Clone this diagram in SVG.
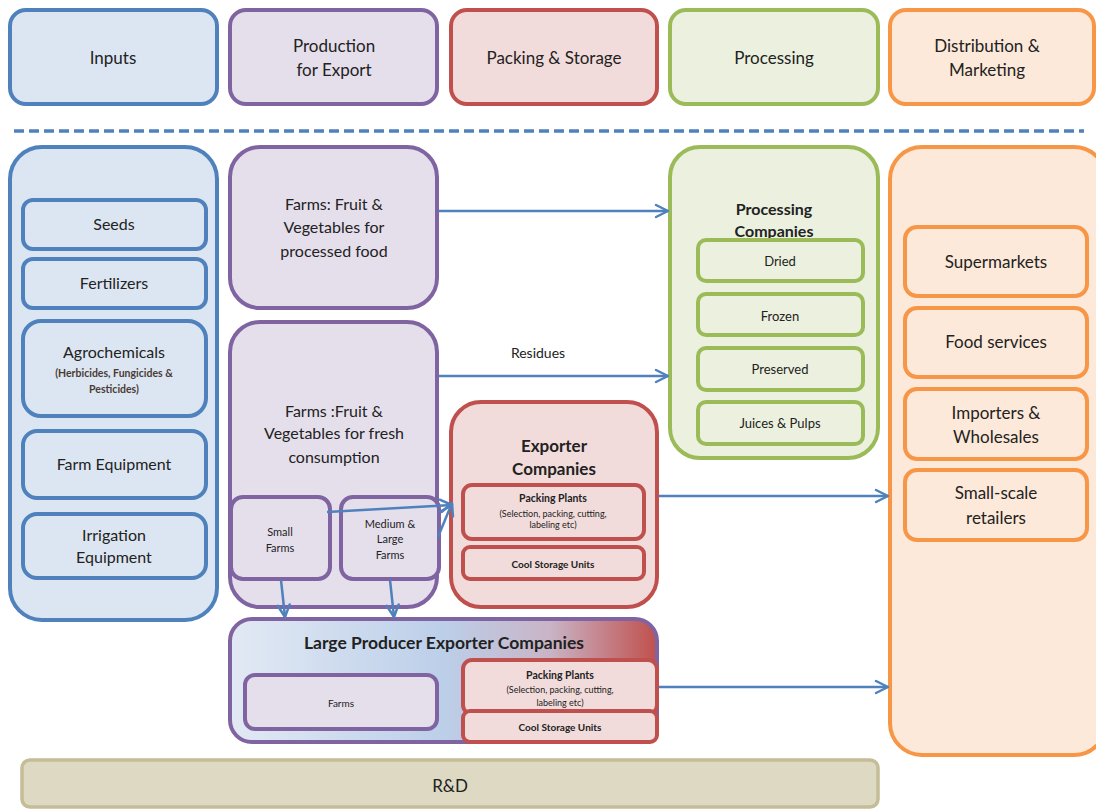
<svg xmlns="http://www.w3.org/2000/svg" width="1096" height="809" viewBox="0 0 1096 809">
<defs>
<marker id="arr" markerUnits="userSpaceOnUse" markerWidth="16" markerHeight="16" viewBox="0 0 16 16" refX="14" refY="8" orient="auto">
<path d="M2,2 L14,8 L2,14" fill="none" stroke="#4f81bd" stroke-width="2.5" stroke-linecap="round" stroke-linejoin="round"/>
</marker>
<linearGradient id="lpg" x1="0" y1="0" x2="1" y2="0">
<stop offset="0" stop-color="#e2e9f4"/>
<stop offset="0.5" stop-color="#bccfe9"/>
<stop offset="0.75" stop-color="#c9b4c6"/>
<stop offset="1" stop-color="#c0504d"/>
</linearGradient>
<style>
text{font-family:Lato,"Liberation Sans",sans-serif;fill:#222;text-anchor:middle}
.b{fill:#dce6f2;stroke:#4f81bd;stroke-width:4}
.p{fill:#e5dfec;stroke:#8064a2;stroke-width:4}
.r{fill:#f2dcdb;stroke:#c0504d;stroke-width:4}
.g{fill:#ebf1de;stroke:#9bbb59;stroke-width:4}
.o{fill:#fde9d9;stroke:#f79646;stroke-width:4}
.t17{font-size:17px}
.t16{font-size:16px}
.t13{font-size:13px}
.bold{font-weight:bold}
.conn{stroke:#4f81bd;stroke-width:2.5;fill:none;marker-end:url(#arr)}
</style>
</defs>

<g id="headers">
<g id="h-inputs"><rect class="b" x="10" y="10" width="207" height="94" rx="16"/><text class="t17" x="113" y="64">Inputs</text></g>
<g id="h-production"><rect class="p" x="230" y="10" width="207" height="94" rx="16"/><text class="t17" x="334" y="52">Production</text><text class="t17" x="334" y="76">for Export</text></g>
<g id="h-packing"><rect class="r" x="451" y="10" width="206" height="94" rx="16"/><text class="t17" x="554" y="64">Packing &amp; Storage</text></g>
<g id="h-processing"><rect class="g" x="670" y="10" width="208" height="94" rx="16"/><text class="t17" x="774" y="64">Processing</text></g>
<g id="h-distribution"><rect class="o" x="890" y="10" width="204" height="94" rx="16"/><text class="t17" x="987" y="52">Distribution &amp;</text><text class="t17" x="987" y="76">Marketing</text></g>
</g>

<line x1="14" y1="131" x2="1084" y2="131" stroke="#4f81bd" stroke-width="3.5" stroke-dasharray="10,5"/>

<g id="inputs">
<rect class="b" x="10" y="147" width="207" height="473" rx="32"/>
<g id="seeds"><rect class="b" x="23" y="200" width="183" height="49" rx="10"/><text class="t16" x="114" y="230">Seeds</text></g>
<g id="fertilizers"><rect class="b" x="23" y="259" width="183" height="49" rx="10"/><text class="t16" x="114" y="289">Fertilizers</text></g>
<g id="agrochemicals"><rect class="b" x="23" y="321" width="183" height="95" rx="18"/><text class="t16" x="114" y="358">Agrochemicals</text><text class="bold" style="font-size:10.5px;fill:#4a3b35" x="114" y="377">(Herbicides, Fungicides &amp;</text><text class="bold" style="font-size:10.5px;fill:#4a3b35" x="114" y="393">Pesticides)</text></g>
<g id="farm-equipment"><rect class="b" x="23" y="431" width="183" height="67" rx="14"/><text class="t16" x="114" y="470">Farm Equipment</text></g>
<g id="irrigation"><rect class="b" x="23" y="514" width="183" height="64" rx="14"/><text class="t16" x="114" y="541">Irrigation</text><text class="t16" x="114" y="563">Equipment</text></g>
</g>

<g id="farms-processed">
<rect class="p" x="230" y="147" width="207" height="161" rx="30"/>
<text class="t16" x="334" y="210">Farms: Fruit &amp;</text>
<text class="t16" x="334" y="233">Vegetables for</text>
<text class="t16" x="334" y="257">processed food</text>
</g>

<g id="farms-fresh">
<rect class="p" x="230" y="322" width="207" height="285" rx="30"/>
<text class="t16" x="334" y="417">Farms :Fruit &amp;</text>
<text class="t16" x="334" y="439">Vegetables for fresh</text>
<text class="t16" x="334" y="463">consumption</text>
<g id="small-farms"><rect class="p" x="231" y="497" width="99" height="82" rx="12"/><text style="font-size:11px" x="280" y="536">Small</text><text style="font-size:11px" x="280" y="552">Farms</text></g>
<g id="medium-farms"><rect class="p" x="341" y="497" width="98" height="82" rx="12"/><text style="font-size:11px" x="390" y="528">Medium &amp;</text><text style="font-size:11px" x="390" y="543">Large</text><text style="font-size:11px" x="390" y="559">Farms</text></g>
</g>

<g id="exporter">
<rect class="r" x="451" y="402" width="206" height="205" rx="30"/>
<text class="t17 bold" x="554" y="452">Exporter</text>
<text class="t17 bold" x="554" y="475">Companies</text>
<g id="exp-packing"><rect class="r" x="463" y="485" width="181" height="54" rx="9"/><text class="bold" style="font-size:10.5px" x="553" y="502">Packing Plants</text><text style="font-size:9px" x="553" y="517">(Selection, packing, cutting,</text><text style="font-size:9px" x="553" y="528">labeling etc)</text></g>
<g id="exp-cool"><rect class="r" x="463" y="547" width="181" height="32" rx="7"/><text class="bold" style="font-size:10px" x="553" y="568">Cool Storage  Units</text></g>
</g>

<g id="large-producer">
<rect x="230" y="619" width="427" height="123" rx="22" fill="url(#lpg)" stroke="#8064a2" stroke-width="4"/>
<text class="bold" style="font-size:17.5px" x="444" y="649">Large Producer Exporter Companies</text>
<g id="lp-farms"><rect class="p" x="245" y="675" width="192" height="54" rx="10"/><text style="font-size:10px" x="341" y="707">Farms</text></g>
<g id="lp-packing"><rect class="r" x="463" y="660" width="194" height="54" rx="9"/><text class="bold" style="font-size:10.5px" x="560" y="679">Packing Plants</text><text style="font-size:9px" x="560" y="693">(Selection, packing, cutting,</text><text style="font-size:9px" x="560" y="706">labeling etc)</text></g>
<g id="lp-cool"><rect class="r" x="463" y="711" width="194" height="31" rx="7"/><text class="bold" style="font-size:10px" x="560" y="731">Cool Storage  Units</text></g>
</g>

<g id="processing">
<rect class="g" x="670" y="147" width="208" height="311" rx="30"/>
<text class="bold" style="font-size:16px" x="774" y="215">Processing</text>
<text class="bold" style="font-size:16px" x="774" y="237">Companies</text>
<g id="dried"><rect class="g" x="698" y="240" width="165" height="41" rx="8"/><text class="t13" x="780" y="266">Dried</text></g>
<g id="frozen"><rect class="g" x="698" y="294" width="165" height="41" rx="8"/><text class="t13" x="780" y="321">Frozen</text></g>
<g id="preserved"><rect class="g" x="698" y="348" width="165" height="42" rx="8"/><text class="t13" x="780" y="374">Preserved</text></g>
<g id="juices"><rect class="g" x="698" y="402" width="165" height="42" rx="8"/><text class="t13" x="780" y="428">Juices &amp; Pulps</text></g>
</g>

<g id="distribution">
<rect class="o" x="890" y="147" width="216" height="608" rx="32"/>
<g id="supermarkets"><rect class="o" x="905" y="227" width="182" height="69" rx="12"/><text class="t17" x="996" y="268">Supermarkets</text></g>
<g id="food-services"><rect class="o" x="905" y="308" width="182" height="69" rx="12"/><text class="t17" x="996" y="348">Food services</text></g>
<g id="importers"><rect class="o" x="905" y="389" width="182" height="70" rx="12"/><text class="t17" x="996" y="419">Importers &amp;</text><text class="t17" x="996" y="443">Wholesales</text></g>
<g id="retailers"><rect class="o" x="905" y="470" width="182" height="70" rx="12"/><text class="t17" x="996" y="499">Small-scale</text><text class="t17" x="996" y="524">retailers</text></g>
</g>

<g id="rd">
<rect x="22" y="760" width="856" height="47" rx="8" fill="#ddd9c3" stroke="#c4bd97" stroke-width="3.5"/>
<text class="t17" x="450" y="792">R&amp;D</text>
</g>

<g id="connectors">
<line class="conn" x1="439" y1="211" x2="668" y2="211"/>
<line class="conn" x1="439" y1="376" x2="668" y2="376"/>
<text style="font-size:14px" x="538" y="358">Residues</text>
<line class="conn" x1="327" y1="512" x2="452" y2="505"/>
<line class="conn" x1="438" y1="537" x2="452" y2="503"/>
<line class="conn" x1="659" y1="496" x2="888" y2="496"/>
<line class="conn" x1="281" y1="580" x2="285" y2="617"/>
<line class="conn" x1="390" y1="580" x2="394" y2="617"/>
<line class="conn" x1="659" y1="687" x2="888" y2="687"/>
</g>
</svg>
